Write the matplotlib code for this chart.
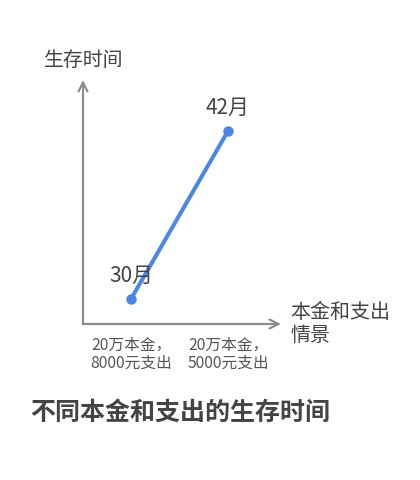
import matplotlib.pyplot as plt

plt.rcParams['font.family'] = ['Noto Sans CJK SC', 'DejaVu Sans']

scenarios = ["20万本金，\n8000元支出", "20万本金，\n5000元支出"]
months = [30, 42]
point_labels = ["30月", "42月"]

fig = plt.figure(figsize=(4.2, 4.8), dpi=100)
ax = fig.add_axes([83 / 420, 1 - 324 / 480, 198 / 420, 244 / 480])
ax.set_xlim(-0.495, 1.546)
ax.set_ylim(28.21, 45.64)
for s in ax.spines.values():
    s.set_visible(False)
ax.set_xticks([])
ax.set_yticks([])

axis_col = "#8c8c8c"
ax.annotate("", xy=(1, 0), xytext=(0, 0), xycoords="axes fraction",
            arrowprops=dict(arrowstyle="->", color=axis_col, lw=1.6,
                            shrinkA=0, shrinkB=0, mutation_scale=16))
ax.annotate("", xy=(0, 1), xytext=(0, 0), xycoords="axes fraction",
            arrowprops=dict(arrowstyle="->", color=axis_col, lw=1.6,
                            shrinkA=0, shrinkB=0, mutation_scale=16))

xs = list(range(len(scenarios)))
ax.plot(xs, months, color="#4a86e8", lw=2.9, marker="o", markersize=6.5,
        clip_on=False, solid_capstyle="round")

for x, y, lab in zip(xs, months, point_labels):
    ax.annotate(lab, (x, y), xytext=(0, 16.5), textcoords="offset points",
                ha="center", va="center", fontsize=15, color="#444444")

for x, lab in zip(xs, scenarios):
    ax.annotate(lab, (x, 0), xycoords=("data", "axes fraction"),
                xytext=(0, -9), textcoords="offset points",
                ha="center", va="top", fontsize=11.3, color="#555555",
                linespacing=1.1)

fig.text(44 / 420, 1 - 60 / 480, "生存时间", fontsize=14.3, color="#444444",
         ha="left", va="center")
fig.text(290 / 420, 1 - 324 / 480, "本金和支出\n情景", fontsize=14.4,
         color="#444444", ha="left", va="center", linespacing=1.15)
fig.text(30 / 420, 1 - 413 / 480, "不同本金和支出的生存时间", fontsize=18,
         fontweight="bold", color="#444444", ha="left", va="center")

fig.savefig("out.png", dpi=100)
